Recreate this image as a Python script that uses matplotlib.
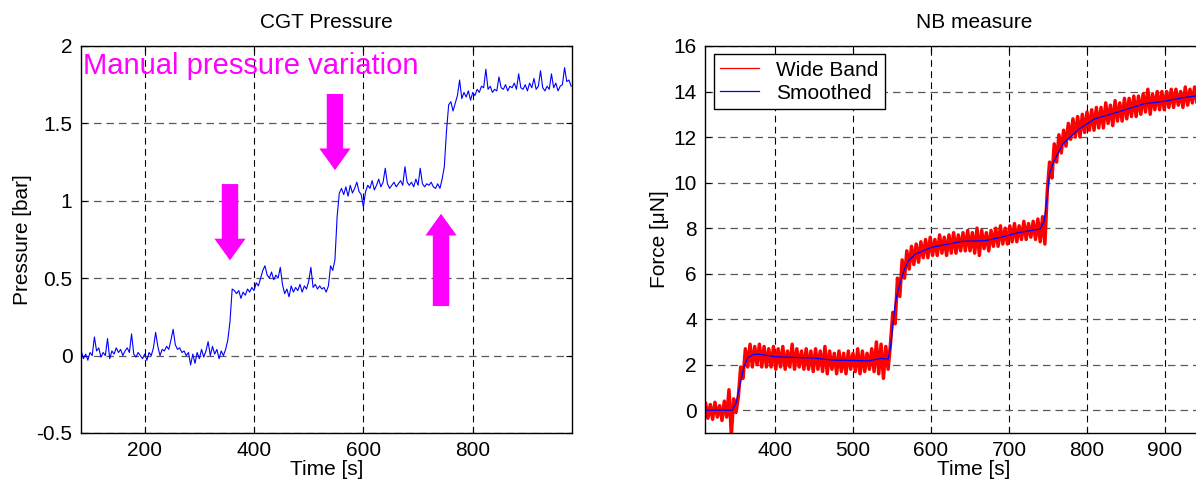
import numpy as np
import matplotlib
matplotlib.use("Agg")
import matplotlib.pyplot as plt

plt.rcParams['font.family'] = ['Liberation Sans', 'DejaVu Sans']

# CGT pressure [bar], one sample every 4 s starting at 84 s (10 per row = 40 s)
pressure_t0, pressure_dt = 84, 4
pressure = [
    0.03, -0.02, 0.01, -0.03, 0.02, 0.00, 0.12, 0.03, 0.05, -0.01,
    0.02, 0.00, 0.11, -0.02, 0.03, 0.01, 0.05, 0.02, 0.04, 0.00,
    0.03, 0.05, 0.02, 0.14, 0.01, -0.01, 0.02, 0.00, -0.02, 0.01,
    -0.03, 0.02, 0.00, 0.05, 0.15, 0.06, 0.00, 0.04, 0.03, 0.06,
    0.04, 0.10, 0.17, 0.07, 0.04, 0.05, 0.02, 0.03, 0.00, 0.02,
    -0.06, 0.01, -0.05, 0.02, -0.02, 0.04, -0.01, 0.03, 0.09, 0.00,
    0.06, 0.01, 0.04, -0.02, 0.03, 0.00, 0.04, 0.10, 0.22, 0.43,
    0.42, 0.40, 0.42, 0.37, 0.41, 0.39, 0.43, 0.41, 0.44, 0.42,
    0.47, 0.45, 0.50, 0.55, 0.58, 0.52, 0.50, 0.54, 0.49, 0.52,
    0.50, 0.57, 0.46, 0.40, 0.43, 0.38, 0.45, 0.41, 0.44, 0.42,
    0.46, 0.41, 0.45, 0.43, 0.48, 0.57, 0.44, 0.46, 0.43, 0.45,
    0.43, 0.44, 0.41, 0.45, 0.58, 0.55, 0.62, 0.90, 1.05, 1.08,
    1.04, 1.09, 1.03, 1.10, 1.05, 1.08, 1.12, 1.06, 1.04, 0.96,
    1.06, 1.10, 1.08, 1.13, 1.07, 1.10, 1.14, 1.09, 1.12, 1.21,
    1.11, 1.08, 1.10, 1.12, 1.09, 1.11, 1.13, 1.10, 1.22, 1.12,
    1.10, 1.12, 1.09, 1.14, 1.10, 1.21, 1.11, 1.09, 1.11, 1.10,
    1.12, 1.09, 1.08, 1.11, 1.08, 1.14, 1.22, 1.45, 1.62, 1.64,
    1.58, 1.63, 1.68, 1.78, 1.66, 1.70, 1.67, 1.71, 1.65, 1.70,
    1.68, 1.72, 1.70, 1.74, 1.73, 1.85, 1.72, 1.74, 1.70, 1.72,
    1.71, 1.80, 1.73, 1.72, 1.75, 1.71, 1.74, 1.73, 1.76, 1.72,
    1.82, 1.73, 1.72, 1.75, 1.71, 1.76, 1.73, 1.79, 1.72, 1.74,
    1.84, 1.73, 1.71, 1.74, 1.72, 1.82, 1.73, 1.76, 1.71, 1.74,
    1.75, 1.86, 1.77, 1.78, 1.74,
]

# NB wide band force [uN], one sample every 3 s starting at 311 s (10 per row = 30 s)
wide_t0, wide_dt = 311, 3
wide_band = [
    0.3, -0.35, 0.25, -0.4, 0.35, -0.3, 0.2, -0.45, 0.4, -0.3,
    0.9, -1.1, 0.5, -0.1, 0.6, 1.9, 1.4, 2.7, 1.9, 2.9,
    1.9, 2.8, 2.0, 2.9, 1.9, 2.8, 1.9, 2.7, 1.9, 2.8,
    1.8, 2.7, 1.9, 2.8, 1.8, 2.6, 1.9, 2.9, 1.8, 2.7,
    1.9, 2.6, 1.8, 2.7, 1.8, 2.6, 1.7, 2.7, 1.8, 2.6,
    1.7, 2.8, 1.6, 2.6, 1.8, 2.5, 1.6, 2.6, 1.7, 2.5,
    1.6, 2.6, 1.8, 2.5, 1.7, 2.7, 1.6, 2.6, 1.7, 2.5,
    1.8, 2.7, 1.7, 3.0, 1.6, 2.9, 1.4, 2.8, 1.8, 2.9,
    4.3, 3.8, 5.8, 5.0, 6.6, 5.8, 7.0, 6.2, 7.2, 6.4,
    7.3, 6.5, 7.4, 6.7, 7.5, 6.7, 7.6, 6.8, 7.5, 6.8,
    7.7, 6.9, 7.6, 6.8, 7.7, 6.9, 7.8, 6.9, 7.7, 7.0,
    7.8, 7.0, 7.9, 7.0, 7.8, 6.9, 8.0, 6.8, 7.9, 7.1,
    7.8, 7.0, 7.9, 7.2, 8.0, 7.2, 8.1, 7.3, 8.0, 7.3,
    8.1, 7.4, 8.2, 7.4, 8.1, 7.5, 8.3, 7.5, 8.2, 7.6,
    8.3, 7.5, 8.4, 7.4, 8.5, 7.3, 9.6, 10.9, 10.2, 11.7,
    10.9, 12.1, 11.3, 12.3, 11.6, 12.6, 11.9, 12.8, 12.0, 12.9,
    12.0, 13.0, 12.2, 13.1, 12.3, 13.2, 12.3, 13.3, 12.4, 13.3,
    12.4, 13.5, 12.6, 13.4, 12.5, 13.6, 12.7, 13.5, 12.7, 13.7,
    12.8, 13.7, 12.9, 13.8, 12.9, 13.8, 13.0, 13.9, 13.1, 14.1,
    13.0, 13.9, 13.2, 14.0, 13.2, 14.0, 13.2, 14.0, 13.3, 14.1,
    13.3, 14.1, 13.4, 14.0, 13.3, 14.2, 13.4, 14.1, 13.5, 14.2,
    13.5, 14.1, 13.6, 14.2,
]

smooth_t = [311, 345, 350, 355, 360, 365, 372, 380, 400, 450, 475, 520, 535, 545,
            548, 551, 554, 558, 562, 566, 571, 580, 600, 640, 670, 690, 712, 740,
            745, 749, 752, 756, 760, 769, 790, 810, 840, 873, 897, 927, 950]
smooth = [0.0, 0.0, 0.3, 1.1, 1.9, 2.3, 2.45, 2.46, 2.35, 2.29, 2.2, 2.17, 2.27, 2.25,
          2.75, 3.7, 4.66, 5.3, 5.76, 6.2, 6.57, 6.86, 7.15, 7.42, 7.45, 7.6, 7.8, 7.96,
          8.3, 9.35, 10.4, 10.8, 11.1, 11.7, 12.36, 12.8, 13.1, 13.46, 13.56, 13.75, 13.85]

# annotation arrows: x, tail y, tip y
arrow_x = [356, 548, 742]
arrow_tail = [1.108, 1.69, 0.32]
arrow_tip = [0.615, 1.198, 0.916]

fs = 15
magenta = '#ff00ff'

fig = plt.figure(figsize=(11.96, 4.87), dpi=100)
ax1 = fig.add_axes([0.0675, 0.1109, 0.4105, 0.7947])
ax2 = fig.add_axes([0.5897, 0.1109, 0.4496, 0.7947])


def style(ax):
    ax.tick_params(direction='in', length=4, width=0.8, top=True, right=True,
                   labelsize=fs, pad=6)
    for sp in ax.spines.values():
        sp.set_linewidth(1.0)
    ax.set_axisbelow(True)
    ax.xaxis.grid(True, color='k', linestyle=(0, (6, 4)), linewidth=0.8)
    ax.yaxis.grid(True, color='0.35', linestyle=(0, (6, 4)), linewidth=0.9)


# left: CGT pressure
pt = pressure_t0 + pressure_dt * np.arange(len(pressure))
ax1.plot(pt, pressure, color='#0000ff', linewidth=0.8)
ax1.set_xlim(83, 981)
ax1.set_ylim(-0.5, 2)
ax1.set_xticks([200, 400, 600, 800])
ax1.set_yticks([-0.5, 0, 0.5, 1, 1.5, 2])
ax1.set_yticklabels(['-0.5', '0', '0.5', '1', '1.5', '2'])
style(ax1)
ax1.set_title('CGT Pressure', fontsize=fs, pad=13)
ax1.set_xlabel('Time [s]', fontsize=fs, labelpad=0)
ax1.set_ylabel('Pressure [bar]', fontsize=fs, labelpad=3)
ax1.text(88, 1.82, 'Manual pressure variation', color=magenta, fontsize=21,
         va='baseline')
for x, y0, y1 in zip(arrow_x, arrow_tail, arrow_tip):
    ax1.arrow(x, y0, 0, y1 - y0, width=30, head_width=57, head_length=0.14,
              length_includes_head=True, color=magenta, linewidth=0)

# right: NB measure
wt = wide_t0 + wide_dt * np.arange(len(wide_band))
ax2.plot(wt, wide_band, color='#ff0000', linewidth=2.5, label='Wide Band')
ax2.plot(smooth_t, smooth, color='#0000ff', linewidth=0.9, label='Smoothed')
ax2.set_xlim(310.6, 1000)
ax2.set_ylim(-1, 16)
ax2.set_xticks([400, 500, 600, 700, 800, 900])
ax2.set_yticks([0, 2, 4, 6, 8, 10, 12, 14, 16])
style(ax2)
ax2.set_title('NB measure', fontsize=fs, pad=13)
ax2.set_xlabel('Time [s]', fontsize=fs, labelpad=0)
ax2.set_ylabel('Force [\u03bcN]', fontsize=fs, labelpad=3)
leg = ax2.legend(loc='upper left', bbox_to_anchor=(0.0, 1.0), borderaxespad=0.4,
                 fontsize=fs, fancybox=False, framealpha=1, edgecolor='k',
                 handlelength=1.9, handletextpad=0.8, borderpad=0.3, labelspacing=0.2)
leg.get_frame().set_linewidth(1.0)
leg.get_lines()[0].set_linewidth(0.9)

fig.savefig('out.png', dpi=100)
